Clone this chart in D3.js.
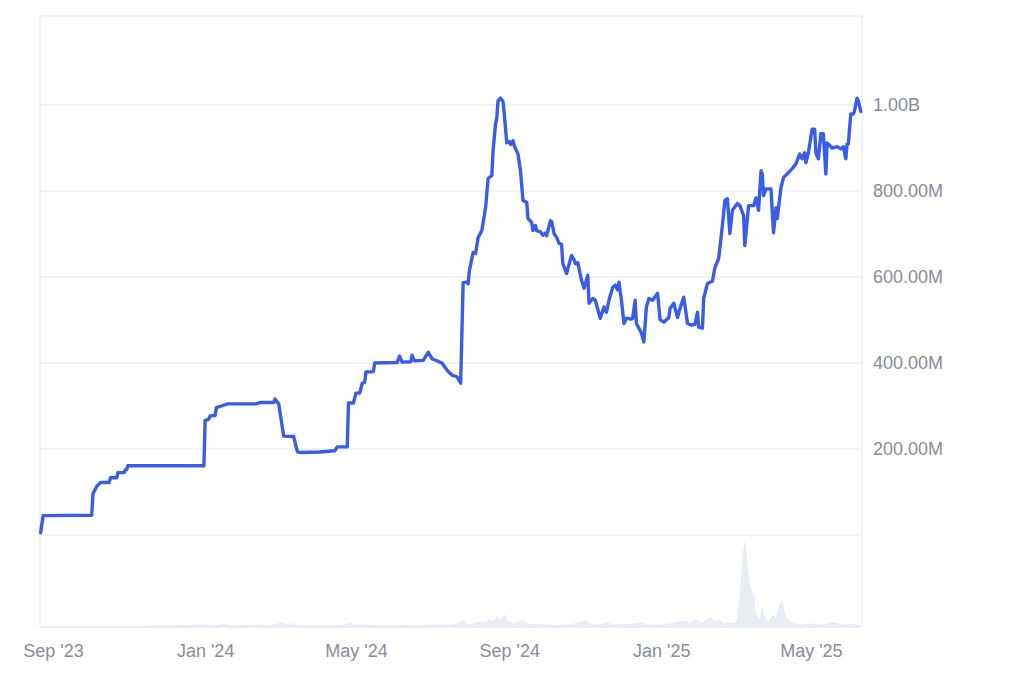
<!DOCTYPE html>
<html>
<head>
<meta charset="utf-8">
<script src="https://cdn.jsdelivr.net/npm/d3@7"></script>
<style>
  html, body { margin: 0; padding: 0; background: #ffffff; }
  svg { display: block; }
  text { font-family: "Liberation Sans", Arial, sans-serif; }
</style>
</head>
<body>
<svg id="chart" width="1024" height="683"></svg>
<script>
// ---- Data (values in millions) ----
const tvlDates = ["2023-08-22","2023-08-24","2023-10-02","2023-10-03","2023-10-06","2023-10-09","2023-10-16","2023-10-17","2023-10-22","2023-10-23","2023-10-28","2023-10-29","2023-10-30","2023-10-31","2023-12-31","2024-01-01","2024-01-04","2024-01-05","2024-01-09","2024-01-10","2024-01-14","2024-01-19","2024-02-11","2024-02-14","2024-02-25","2024-02-26","2024-02-29","2024-03-02","2024-03-04","2024-03-12","2024-03-15","2024-03-17","2024-04-02","2024-04-14","2024-04-16","2024-04-24","2024-04-25","2024-04-29","2024-05-01","2024-05-04","2024-05-06","2024-05-08","2024-05-09","2024-05-15","2024-05-16","2024-06-03","2024-06-05","2024-06-07","2024-06-14","2024-06-15","2024-06-17","2024-06-24","2024-06-28","2024-07-01","2024-07-09","2024-07-12","2024-07-14","2024-07-17","2024-07-21","2024-07-24","2024-07-26","2024-07-29","2024-07-30","2024-07-31","2024-08-03","2024-08-05","2024-08-07","2024-08-10","2024-08-13","2024-08-15","2024-08-18","2024-08-19","2024-08-21","2024-08-22","2024-08-23","2024-08-25","2024-08-27","2024-08-28","2024-08-30","2024-09-01","2024-09-02","2024-09-04","2024-09-05","2024-09-08","2024-09-10","2024-09-12","2024-09-15","2024-09-16","2024-09-19","2024-09-20","2024-09-22","2024-09-23","2024-09-26","2024-09-28","2024-09-30","2024-10-01","2024-10-04","2024-10-05","2024-10-07","2024-10-09","2024-10-11","2024-10-13","2024-10-14","2024-10-17","2024-10-18","2024-10-21","2024-10-23","2024-10-24","2024-10-26","2024-10-29","2024-10-31","2024-11-03","2024-11-04","2024-11-07","2024-11-09","2024-11-13","2024-11-16","2024-11-18","2024-11-20","2024-11-23","2024-11-25","2024-11-27","2024-11-28","2024-11-30","2024-12-02","2024-12-04","2024-12-08","2024-12-09","2024-12-11","2024-12-12","2024-12-16","2024-12-18","2024-12-20","2024-12-22","2024-12-25","2024-12-29","2024-12-31","2025-01-03","2025-01-07","2025-01-08","2025-01-11","2025-01-14","2025-01-16","2025-01-19","2025-01-22","2025-01-25","2025-01-28","2025-01-30","2025-01-31","2025-02-03","2025-02-04","2025-02-07","2025-02-11","2025-02-13","2025-02-16","2025-02-17","2025-02-19","2025-02-21","2025-02-23","2025-02-25","2025-02-27","2025-03-03","2025-03-05","2025-03-08","2025-03-09","2025-03-12","2025-03-16","2025-03-18","2025-03-20","2025-03-22","2025-03-23","2025-03-24","2025-03-26","2025-03-30","2025-04-01","2025-04-03","2025-04-04","2025-04-07","2025-04-09","2025-04-12","2025-04-16","2025-04-19","2025-04-22","2025-04-24","2025-04-26","2025-04-27","2025-04-29","2025-05-02","2025-05-04","2025-05-05","2025-05-07","2025-05-09","2025-05-11","2025-05-13","2025-05-14","2025-05-18","2025-05-22","2025-05-25","2025-05-27","2025-05-29","2025-05-30","2025-05-31","2025-06-02","2025-06-04","2025-06-05","2025-06-07","2025-06-08","2025-06-10"];
const tvlValues = [5,45,46,96,113,122,122,133,133,145,145,152,152,161,161,266,270,277,278,296,300,305,305,308,308,316,305,268,230,229,194,192,193,196,205,205,307,307,330,330,353,355,379,380,400,401,416,402,403,418,405,406,425,410,400,388,380,372,368,353,587,588,584,615,657,655,692,708,761,829,836,893,956,970,1010,1016,1008,979,912,915,908,917,905,886,847,778,774,736,727,708,720,708,705,697,702,696,731,729,701,692,678,676,631,608,620,650,640,631,633,592,574,604,539,550,546,504,530,518,546,576,581,570,588,546,492,504,502,504,546,492,470,449,530,550,546,562,501,495,506,527,539,506,527,553,492,488,490,518,483,481,550,585,590,622,643,668,720,778,782,701,755,771,766,743,673,766,766,784,755,847,840,789,805,805,703,761,736,808,831,840,852,863,886,875,889,866,889,944,944,889,875,933,933,840,912,900,903,898,903,875,909,909,979,979,986,1016,1010,985];

const volDates = ["2023-08-22","2023-10-10","2023-11-20","2023-12-15","2024-01-01","2024-01-08","2024-01-15","2024-01-22","2024-02-05","2024-02-12","2024-02-20","2024-02-28","2024-03-03","2024-03-06","2024-03-10","2024-03-14","2024-03-25","2024-04-10","2024-04-20","2024-04-26","2024-04-29","2024-05-10","2024-05-25","2024-06-05","2024-06-20","2024-07-01","2024-07-10","2024-07-20","2024-07-26","2024-07-29","2024-08-03","2024-08-08","2024-08-12","2024-08-16","2024-08-19","2024-08-22","2024-08-25","2024-08-28","2024-08-31","2024-09-04","2024-09-08","2024-09-12","2024-09-16","2024-09-22","2024-10-01","2024-10-10","2024-10-20","2024-11-02","2024-11-05","2024-11-12","2024-11-18","2024-11-24","2024-12-02","2024-12-10","2024-12-16","2024-12-20","2024-12-30","2025-01-08","2025-01-14","2025-01-20","2025-01-24","2025-01-28","2025-02-02","2025-02-06","2025-02-10","2025-02-13","2025-02-17","2025-02-20","2025-02-24","2025-02-28","2025-03-03","2025-03-05","2025-03-06","2025-03-07","2025-03-08","2025-03-09","2025-03-10","2025-03-11","2025-03-12","2025-03-13","2025-03-14","2025-03-15","2025-03-16","2025-03-17","2025-03-19","2025-03-21","2025-03-23","2025-03-25","2025-03-28","2025-04-01","2025-04-03","2025-04-06","2025-04-08","2025-04-10","2025-04-13","2025-04-16","2025-04-22","2025-05-01","2025-05-10","2025-05-18","2025-05-28","2025-06-05","2025-06-10"];
const volValues = [0,0.5,1,1.5,2,1,2.5,1,1.5,2,1,3,4,2,3.5,1.5,1,1,1.5,4,2,1.5,1,1.5,1,2,1.5,2.5,6,2,3,5,4,7,5,10,6,12,5,3,4,7,3,2.5,2,1.5,2,6,3,2,4,2,2.5,3,4,2,2,3,5,6,3,8,4,7,9,5,7,3,4,3,6,30,44,62,75,84,76,60,50,40,36,28,35,17,10,6,19,8,5,12,6,22,27,12,6,4,2,3,2,4,2,3,1];

const yTickValues = [200, 400, 600, 800, 1000];
const yTickLabels = ["200.00M", "400.00M", "600.00M", "800.00M", "1.00B"];
const xTickDates = ["2023-09-01", "2024-01-01", "2024-05-01", "2024-09-01", "2025-01-01", "2025-05-01"];
const xTickLabels = ["Sep '23", "Jan '24", "May '24", "Sep '24", "Jan '25", "May '25"];

// ---- Layout ----
const parse = d3.utcParse("%Y-%m-%d");
const plotLeft = 40, plotRight = 862, plotTop = 16, mainBottom = 535, volBottom = 627;
const gridColor = "#edf0f3";
const labelColor = "#878d96";

const svg = d3.select("#chart");

const x = d3.scaleUtc()
  .domain([new Date(Date.UTC(2023, 7, 21, 12)), new Date(Date.UTC(2025, 5, 11))])
  .range([plotLeft, plotRight]);
const y = d3.scaleLinear().domain([0, 1207]).range([mainBottom, plotTop]);
const yVol = d3.scaleLinear().domain([0, 92]).range([volBottom, mainBottom]);

const tvl = tvlDates.map((d, i) => ({ date: parse(d), value: tvlValues[i] }));
const vol = volDates.map((d, i) => ({ date: parse(d), value: volValues[i] }));

// Frame / gridlines
const g = svg.append("g");
function hline(y0) {
  g.append("line").attr("x1", plotLeft).attr("x2", plotRight).attr("y1", y0).attr("y2", y0)
    .attr("stroke", gridColor).attr("stroke-width", 1.5);
}
function vline(x0) {
  g.append("line").attr("x1", x0).attr("x2", x0).attr("y1", plotTop).attr("y2", volBottom)
    .attr("stroke", gridColor).attr("stroke-width", 1.5);
}
hline(plotTop); hline(volBottom); hline(y(0));
vline(plotLeft); vline(plotRight);

g.selectAll("line.grid").data(yTickValues).join("line")
  .attr("class", "grid")
  .attr("x1", plotLeft).attr("x2", plotRight)
  .attr("y1", d => y(d)).attr("y2", d => y(d))
  .attr("stroke", gridColor).attr("stroke-width", 1.5);

// Volume area
svg.append("path")
  .datum(vol)
  .attr("fill", "#e9eef4")
  .attr("stroke", "#e3e9f0")
  .attr("stroke-width", 0.8)
  .attr("d", d3.area().x(d => x(d.date)).y0(yVol(0)).y1(d => yVol(d.value)));

// Main line
svg.append("path")
  .datum(tvl)
  .attr("fill", "none")
  .attr("stroke", "#3a5de6")
  .attr("stroke-width", 3.4)
  .attr("stroke-linejoin", "round")
  .attr("stroke-linecap", "round")
  .attr("d", d3.line().x(d => x(d.date)).y(d => y(d.value)));

// Y axis labels (right)
const yAxis = d3.axisRight(y)
  .tickValues(yTickValues)
  .tickFormat((d, i) => yTickLabels[i])
  .tickSize(0)
  .tickPadding(11);
const ya = svg.append("g").attr("transform", `translate(${plotRight},0)`).call(yAxis);
ya.select(".domain").remove();
ya.selectAll("text")
  .attr("fill", labelColor)
  .style("font-size", "18px")
  .style("font-family", "'Liberation Sans', Arial, sans-serif");

// X axis labels (bottom)
const xTicks = xTickDates.map(parse);
const xAxis = d3.axisBottom(x)
  .tickValues(xTicks)
  .tickFormat((d, i) => xTickLabels[i])
  .tickSize(0)
  .tickPadding(17);
const xa = svg.append("g").attr("transform", `translate(0,${volBottom})`).call(xAxis);
xa.select(".domain").remove();
xa.selectAll("text")
  .attr("fill", labelColor)
  .style("font-size", "18px")
  .style("font-family", "'Liberation Sans', Arial, sans-serif");
</script>
</body>
</html>
